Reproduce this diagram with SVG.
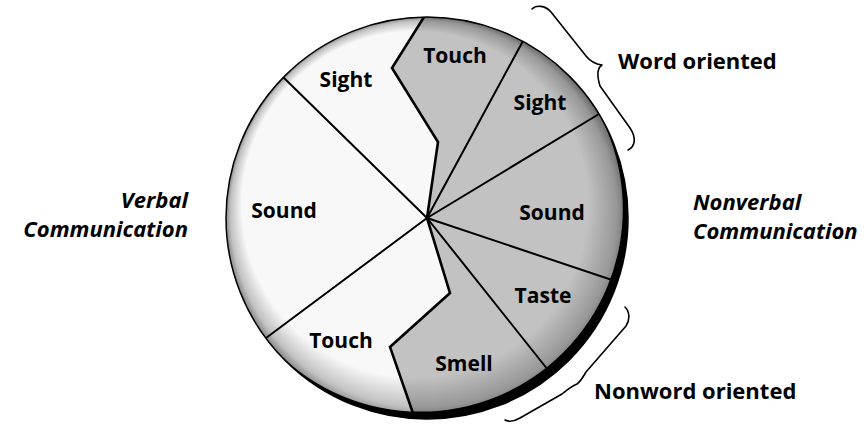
<svg xmlns="http://www.w3.org/2000/svg" width="868" height="425" viewBox="0 0 868 425">
<style>
.lbl{font-family:"Open Sans","Liberation Sans",sans-serif;font-weight:bold;font-size:21px;fill:#000;text-anchor:middle}
.out{font-family:"Open Sans","Liberation Sans",sans-serif;font-weight:bold;font-size:22px;fill:#000}
.it{font-style:italic}
.gray{fill:#c2c2c2}
.light{fill:#f8f8f8}
.seg{stroke:none}
.div{fill:none;stroke:#000;stroke-width:2;stroke-linejoin:miter}
.zig{fill:none;stroke:#000;stroke-width:2.6;stroke-linejoin:miter}
.brace{fill:none;stroke:#000;stroke-width:1.6;stroke-linecap:round;stroke-linejoin:round}
</style>
<defs>
<clipPath id="disc"><circle cx="427" cy="218" r="201"/></clipPath>
<radialGradient id="rim" gradientUnits="userSpaceOnUse" cx="427" cy="218" r="201" fx="340" fy="120">
<stop offset="0" stop-color="#000" stop-opacity="0"/>
<stop offset="0.86" stop-color="#000" stop-opacity="0"/>
<stop offset="0.96" stop-color="#000" stop-opacity="0.22"/>
<stop offset="1" stop-color="#000" stop-opacity="0.45"/>
</radialGradient>
</defs>
<rect width="868" height="425" fill="#fff"/>
<g clip-path="url(#disc)">
<g id="seg-touch-nv"><path class="seg gray" d="M427,218 L438,142 L392,68 L424,17 A201,201 0 0 1 523,41 Z"/></g>
<g id="seg-sight-nv"><path class="seg gray" d="M427,218 L523,41 A201,201 0 0 1 599,114 Z"/></g>
<g id="seg-sound-nv"><path class="seg gray" d="M427,218 L599,114 A201,201 0 0 1 618,282 Z"/></g>
<g id="seg-taste-nv"><path class="seg gray" d="M427,218 L618,282 A201,201 0 0 1 552,375 Z"/></g>
<g id="seg-smell-nv"><path class="seg gray" d="M427,218 L552,375 A201,201 0 0 1 415,419 L390,347 L450,293 Z"/></g>
<g id="seg-sight-v"><path class="seg light" d="M427,218 L438,142 L392,68 L424,17 A201,201 0 0 0 283,77 Z"/></g>
<g id="seg-sound-v"><path class="seg light" d="M427,218 L283,77 A201,201 0 0 0 266,338 Z"/></g>
<g id="seg-touch-v"><path class="seg light" d="M427,218 L266,338 A201,201 0 0 0 415,419 L390,347 L450,293 Z"/></g>
<circle cx="427" cy="218" r="201" fill="url(#rim)"/>
<g id="connectors">
<path class="zig" d="M427,218 L438,142 L392,68 L424,17"/>
<path class="zig" d="M427,218 L450,293 L390,347 L415,419"/>
<path class="div" d="M427,218 L523,41 M427,218 L599,114 M427,218 L618,282 M427,218 L552,375 M427,218 L283,77 M427,218 L266,338"/>
</g>
<path fill="#000" fill-rule="evenodd" d="M226,218 A201,201 0 1 0 628,218 A201,201 0 1 0 226,218 Z M217.8,209.1 A202.5,202.5 0 1 0 622.8,209.1 A202.5,202.5 0 1 0 217.8,209.1 Z"/>
</g>
<circle cx="427" cy="218" r="201" fill="none" stroke="#000" stroke-width="1.5"/>
<g id="labels-segments">
<text class="lbl" x="346" y="87">Sight</text>
<text class="lbl" x="455" y="63">Touch</text>
<text class="lbl" x="540" y="110">Sight</text>
<text class="lbl" x="284" y="218">Sound</text>
<text class="lbl" x="552" y="220">Sound</text>
<text class="lbl" x="543" y="303">Taste</text>
<text class="lbl" x="341" y="348">Touch</text>
<text class="lbl" x="464" y="371">Smell</text>
</g>
<g id="brace-word">
<path class="brace" d="M532,9 C536,5 545,5 551,12 L586,56 C590,61 595,64 602,65 C597,68 597,76 600,86 L630,128 C636,137 636,146 628,150"/>
<text class="out" x="618" y="69">Word oriented</text>
</g>
<g id="brace-nonword">
<path class="brace" d="M625,307 C630,312 630,320 626,326 L586,372 C583,377 581,381 577,384 C572,386 568,389 562,394 L520,418 C515,421 509,422 505,420"/>
<text class="out" x="594" y="399">Nonword oriented</text>
</g>
<g id="verbal">
<text class="out it" x="188" y="208" text-anchor="end">Verbal</text>
<text class="out it" x="188" y="237" text-anchor="end">Communication</text>
</g>
<g id="nonverbal">
<text class="out it" x="693" y="210">Nonverbal</text>
<text class="out it" x="693" y="239">Communication</text>
</g>
</svg>
